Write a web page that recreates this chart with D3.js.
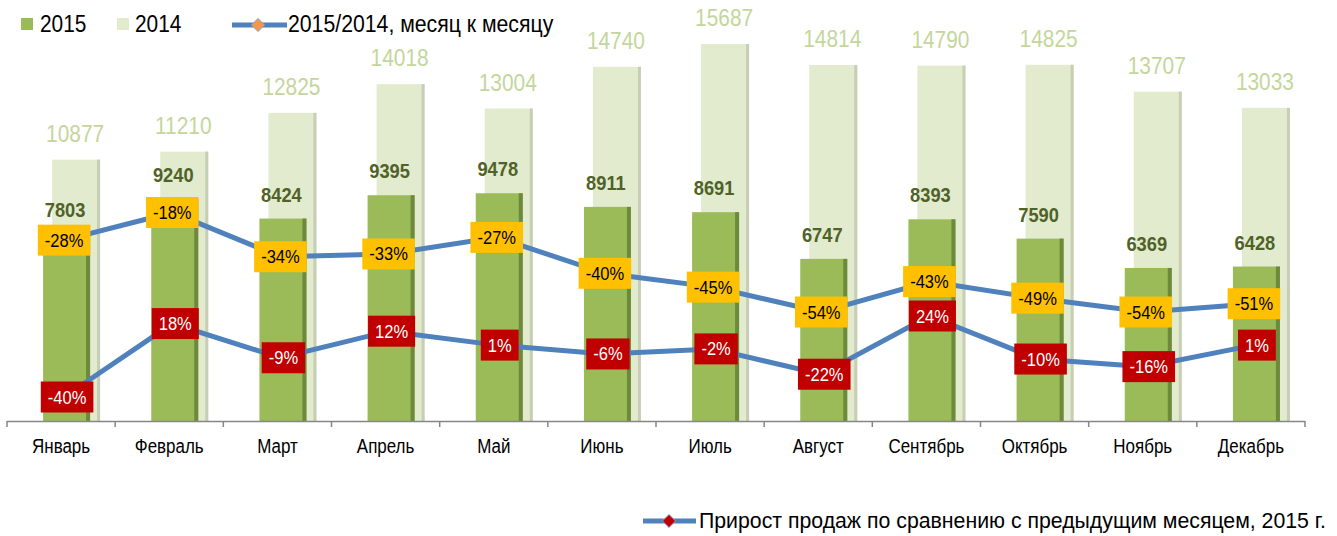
<!DOCTYPE html>
<html>
<head>
<meta charset="utf-8">
<script src="https://cdn.jsdelivr.net/npm/d3@7"></script>
<style>
  body { margin: 0; background: #fff; }
  svg text { font-family: "Liberation Sans", Arial, sans-serif; }
</style>
</head>
<body>
<div id="chart"></div>
<script>
// data
var months = ['Январь', 'Февраль', 'Март', 'Апрель', 'Май', 'Июнь', 'Июль', 'Август', 'Сентябрь', 'Октябрь', 'Ноябрь', 'Декабрь'];
var sales2015 = [7803, 9240, 8424, 9395, 9478, 8911, 8691, 6747, 8393, 7590, 6369, 6428];
var sales2014 = [10877, 11210, 12825, 14018, 13004, 14740, 15687, 14814, 14790, 14825, 13707, 13033];
var yoy = [-28, -18, -34, -33, -27, -40, -45, -54, -43, -49, -54, -51];
var mom = [-40, 18, -9, 12, 1, -6, -2, -22, 24, -10, -16, 1];

var width = 1337, height = 536;
var baseY = 421;
var NARROW = 0.87; // no Arial Narrow here, so squeeze the regular face

var svg = d3.select('#chart').append('svg')
  .attr('width', width)
  .attr('height', height);

// squeeze text horizontally around its anchor point
function squeeze(sel, s) {
  sel.each(function() {
    var t = d3.select(this);
    var tx = +t.attr('x') || 0, ty = +t.attr('y') || 0;
    t.attr('x', 0).attr('y', 0)
      .attr('transform', 'translate(' + tx + ',' + ty + ') scale(' + s + ',1)');
  });
}

var x = d3.scaleBand()
  .domain(months)
  .range([7, 1305]);

var y = d3.scaleLinear()
  .domain([0, 17500])
  .range([baseY, 0.5]);

// the two lines sit on their own (hidden) scales
var yRatio = d3.scaleLinear()
  .domain([-54, -18])
  .range([312, 212.5]);

var yGrowth = d3.scaleLinear()
  .domain([-40, 24])
  .range([397, 316]);

function cx(i) { return x(months[i]) + x.bandwidth() / 2; }

// BARS 2014 (behind)
var g14 = svg.append('g');
g14.selectAll('rect.b14')
  .data(sales2014)
  .enter().append('rect')
  .attr('x', function(d, i) { return cx(i) - 9; })
  .attr('y', function(d) { return y(d); })
  .attr('width', 48)
  .attr('height', function(d) { return baseY - y(d); })
  .attr('fill', '#e3ebcf');
g14.selectAll('rect.s14')
  .data(sales2014)
  .enter().append('rect')
  .attr('x', function(d, i) { return cx(i) + 36; })
  .attr('y', function(d) { return y(d); })
  .attr('width', 3)
  .attr('height', function(d) { return baseY - y(d); })
  .attr('fill', '#c8cdb6');

// BARS 2015
var g15 = svg.append('g');
g15.selectAll('rect.b15')
  .data(sales2015)
  .enter().append('rect')
  .attr('x', function(d, i) { return cx(i) - 18; })
  .attr('y', function(d) { return y(d); })
  .attr('width', 47)
  .attr('height', function(d) { return baseY - y(d); })
  .attr('fill', '#9bbb59');
g15.selectAll('rect.s15')
  .data(sales2015)
  .enter().append('rect')
  .attr('x', function(d, i) { return cx(i) + 25; })
  .attr('y', function(d) { return y(d); })
  .attr('width', 4)
  .attr('height', function(d) { return baseY - y(d); })
  .attr('fill', '#6c8a3b');

// value labels
svg.selectAll('text.v14')
  .data(sales2014)
  .enter().append('text')
  .attr('x', function(d, i) { return cx(i) + 14; })
  .attr('y', function(d) { return y(d) - 18; })
  .attr('text-anchor', 'middle')
  .style('font-size', '24px')
  .attr('fill', '#c3d69b')
  .text(function(d) { return d; })
  .call(squeeze, NARROW);

svg.selectAll('text.v15')
  .data(sales2015)
  .enter().append('text')
  .attr('x', function(d, i) { return cx(i) + 4; })
  .attr('y', function(d) { return y(d) - 17; })
  .attr('text-anchor', 'middle')
  .style('font-size', '21px')
  .style('font-weight', 'bold')
  .attr('fill', '#4f6228')
  .text(function(d) { return d; })
  .call(squeeze, NARROW);

// AXIS
var ax = svg.append('g').attr('class', 'axis');
ax.append('line')
  .attr('x1', x.range()[0]).attr('x2', x.range()[1])
  .attr('y1', baseY + 0.5).attr('y2', baseY + 0.5)
  .attr('stroke', '#868686').attr('stroke-width', 1.5);
var bounds = months.map(function(m) { return x(m); }).concat([x.range()[1]]);
ax.selectAll('line.tick')
  .data(bounds)
  .enter().append('line')
  .attr('x1', function(d) { return d; }).attr('x2', function(d) { return d; })
  .attr('y1', baseY).attr('y2', baseY + 6)
  .attr('stroke', '#868686').attr('stroke-width', 1.5);
ax.selectAll('text')
  .data(months)
  .enter().append('text')
  .attr('x', function(d, i) { return cx(i); })
  .attr('y', 453)
  .attr('text-anchor', 'middle')
  .style('font-size', '19.5px')
  .attr('fill', '#000')
  .text(function(d) { return d; })
  .call(squeeze, NARROW);

// LINES
var lineRatio = d3.line()
  .x(function(d, i) { return cx(i) + 3; })
  .y(function(d) { return yRatio(d); });
var lineGrowth = d3.line()
  .x(function(d, i) { return cx(i) + 3; })
  .y(function(d) { return yGrowth(d); });

svg.append('path')
  .datum(yoy)
  .attr('d', lineRatio)
  .attr('fill', 'none')
  .attr('stroke', '#4f81bd')
  .attr('stroke-width', 5);
svg.append('path')
  .datum(mom)
  .attr('d', lineGrowth)
  .attr('fill', 'none')
  .attr('stroke', '#4f81bd')
  .attr('stroke-width', 5);

function boxLabels(data, scale, fill, color, dx) {
  var g = svg.append('g');
  var lab = g.selectAll('g')
    .data(data)
    .enter().append('g')
    .attr('transform', function(d, i) { return 'translate(' + (cx(i) + 3 + dx) + ',' + scale(d) + ')'; });
  lab.append('rect').attr('fill', fill);
  var texts = lab.append('text')
    .attr('text-anchor', 'middle')
    .attr('y', 6.5)
    .style('font-size', '19px')
    .attr('fill', color)
    .text(function(d) { return d + '%'; });
  texts.each(function() {
    var w = this.getComputedTextLength() * NARROW + 14;
    d3.select(this.parentNode).select('rect')
      .attr('x', -w / 2).attr('y', -15.5)
      .attr('width', w).attr('height', 31);
  });
  texts.call(squeeze, NARROW);
}
boxLabels(yoy, yRatio, '#ffc000', '#000', 0);
boxLabels(mom, yGrowth, '#c00000', '#fff', 3);

// LEGEND top
var leg = svg.append('g');
leg.append('rect').attr('x', 21).attr('y', 18).attr('width', 12).attr('height', 12).attr('fill', '#9bbb59');
leg.append('text').attr('x', 40).attr('y', 32).style('font-size', '24px').text('2015').call(squeeze, NARROW);
leg.append('rect').attr('x', 117).attr('y', 18).attr('width', 12).attr('height', 12).attr('fill', '#e3ebcf');
leg.append('text').attr('x', 135).attr('y', 32).style('font-size', '24px').text('2014').call(squeeze, NARROW);
leg.append('line').attr('x1', 232).attr('x2', 287).attr('y1', 25).attr('y2', 25)
  .attr('stroke', '#4f81bd').attr('stroke-width', 5);
leg.append('path').attr('d', d3.symbol().type(d3.symbolDiamond2).size(110))
  .attr('transform', 'translate(258,25)')
  .attr('fill', '#f79646').attr('stroke', '#7ea6d6').attr('stroke-width', 1);
leg.append('text').attr('x', 288).attr('y', 32).style('font-size', '24px')
  .text('2015/2014, месяц к месяцу').call(squeeze, 0.885);

// LEGEND bottom
var leg2 = svg.append('g');
leg2.append('line').attr('x1', 643).attr('x2', 696).attr('y1', 521).attr('y2', 521)
  .attr('stroke', '#4f81bd').attr('stroke-width', 5);
leg2.append('path').attr('d', d3.symbol().type(d3.symbolDiamond2).size(110))
  .attr('transform', 'translate(669,521)')
  .attr('fill', '#c00000').attr('stroke', '#7ea6d6').attr('stroke-width', 1);
leg2.append('text').attr('x', 699).attr('y', 528).style('font-size', '21.5px')
  .text('Прирост продаж по сравнению с предыдущим месяцем, 2015 г.').call(squeeze, 0.99);
</script>
</body>
</html>
